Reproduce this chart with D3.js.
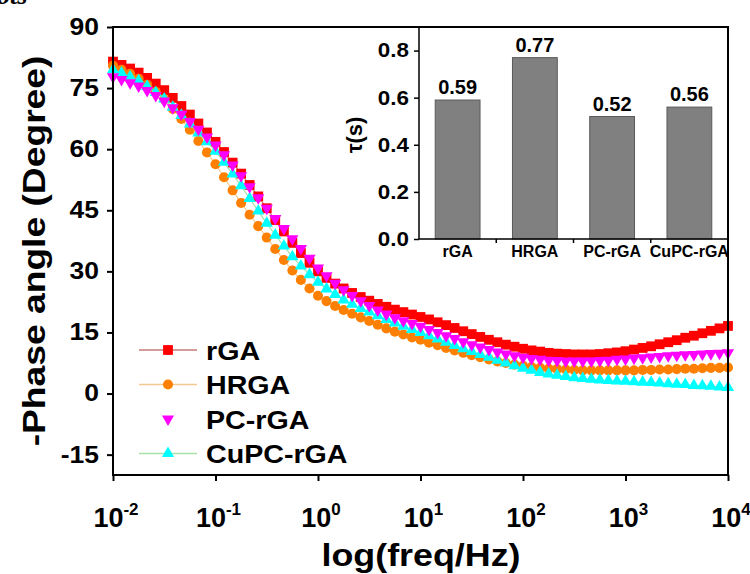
<!DOCTYPE html>
<html>
<head>
<meta charset="utf-8">
<script src="https://cdn.jsdelivr.net/npm/d3@7"></script>
<style>
  body { margin: 0; background: #fff; }
  svg { display: block; font-family: Arial, "Liberation Sans", sans-serif; font-weight: bold; }
</style>
</head>
<body>
<svg id="chart" width="750" height="574"></svg>
<script>
// log10(freq / Hz) of every measured point
const logFreq = [
  -2, -1.917, -1.833, -1.75, -1.667, -1.583, -1.5, -1.417, -1.333, -1.25, -1.167, -1.083,
  -1, -0.917, -0.833, -0.75, -0.667, -0.583, -0.5, -0.417, -0.333, -0.25, -0.167, -0.083,
  0, 0.083, 0.167, 0.25, 0.333, 0.417, 0.5, 0.583, 0.667, 0.75, 0.833, 0.917,
  1, 1.083, 1.167, 1.25, 1.333, 1.417, 1.5, 1.583, 1.667, 1.75, 1.833, 1.917,
  2, 2.083, 2.167, 2.25, 2.333, 2.417, 2.5, 2.583, 2.667, 2.75, 2.833, 2.917,
  3, 3.083, 3.167, 3.25, 3.333, 3.417, 3.5, 3.583, 3.667, 3.75, 3.833, 3.917,
  4
];

// -phase angle (degree)
const rGA = [
  81.5, 80.7, 79.8, 78.8, 77.5, 76.1, 74.5, 72.6, 70.6, 68.5, 66.3, 64.1,
  61.8, 59.3, 56.7, 54.0, 51.2, 48.4, 45.5, 42.6, 39.8, 37.0, 34.5, 32.1,
  30.0, 28.4, 27.0, 25.8, 24.7, 23.7, 22.8, 22.0, 21.3, 20.6, 20.0, 19.4,
  18.8, 18.2, 17.5, 16.8, 16.1, 15.3, 14.6, 13.9, 13.2, 12.6, 12.0, 11.5,
  11.0, 10.6, 10.3, 10.0, 9.8, 9.7, 9.6, 9.6, 9.6, 9.7, 9.9, 10.1,
  10.4, 10.8, 11.2, 11.6, 12.1, 12.6, 13.1, 13.7, 14.2, 14.8, 15.4, 16.0,
  16.6
];
const HRGA = [
  80.5, 79.5, 78.5, 77.3, 75.8, 74.1, 72.3, 69.9, 67.4, 64.8, 62.0, 59.2,
  56.3, 53.1, 49.9, 46.8, 43.9, 41.1, 38.3, 35.5, 32.8, 30.2, 27.9, 25.8,
  24.0, 22.7, 21.5, 20.5, 19.6, 18.7, 17.8, 16.9, 16.0, 15.2, 14.5, 13.8,
  13.2, 12.5, 11.9, 11.2, 10.6, 10.0, 9.4, 8.9, 8.4, 7.9, 7.5, 7.1,
  6.8, 6.5, 6.3, 6.1, 6.0, 5.9, 5.8, 5.7, 5.7, 5.7, 5.7, 5.7,
  5.7, 5.7, 5.8, 5.8, 5.9, 5.9, 6.0, 6.1, 6.1, 6.2, 6.3, 6.3,
  6.4
];
const PCrGA = [
  77.8, 77.1, 76.3, 75.5, 74.4, 73.2, 71.8, 70.2, 68.6, 66.8, 64.9, 63.0,
  61.0, 58.6, 56.1, 53.5, 50.8, 48.1, 45.5, 43.0, 40.5, 38.0, 35.6, 33.2,
  30.8, 28.9, 27.1, 25.5, 24.1, 22.8, 21.6, 20.5, 19.5, 18.6, 17.9, 17.2,
  16.5, 15.7, 15.0, 14.2, 13.5, 12.7, 12.0, 11.4, 10.8, 10.2, 9.7, 9.3,
  8.9, 8.6, 8.4, 8.2, 8.1, 8.0, 8.0, 8.0, 8.0, 8.1, 8.2, 8.4,
  8.5, 8.7, 8.8, 9.0, 9.1, 9.3, 9.4, 9.5, 9.6, 9.7, 9.8, 9.9,
  10.0
];
const CuPCrGA = [
  79.5, 78.7, 77.8, 76.8, 75.4, 73.9, 72.3, 70.3, 68.3, 66.2, 64.0, 61.8,
  59.5, 56.8, 53.9, 51.0, 47.9, 44.8, 41.8, 38.9, 36.2, 33.6, 31.3, 29.2,
  27.3, 25.7, 24.3, 23.0, 21.9, 20.9, 20.0, 19.1, 18.2, 17.3, 16.5, 15.7,
  15.0, 14.2, 13.4, 12.6, 11.8, 11.0, 10.3, 9.6, 8.9, 8.2, 7.5, 6.8,
  6.2, 5.7, 5.2, 4.8, 4.5, 4.2, 3.9, 3.7, 3.5, 3.3, 3.2, 3.1,
  3.0, 2.9, 2.8, 2.7, 2.6, 2.4, 2.3, 2.2, 2.0, 1.9, 1.8, 1.6,
  1.5
];
const seriesNames = ["rGA", "HRGA", "PC-rGA", "CuPC-rGA"];
const yTicks = [-15, 0, 15, 30, 45, 60, 75, 90];
const xExponents = [-2, -1, 0, 1, 2, 3, 4];

// inset: time constant
const tauNames = ["rGA", "HRGA", "PC-rGA", "CuPC-rGA"];
const tauValues = [0.59, 0.77, 0.52, 0.56];
const tauTicks = [0, 0.2, 0.4, 0.6, 0.8];

const styles = {
  "rGA":      { fill: "#ff0000", line: "#c97a7a", symbol: d3.symbolSquare, size: 96, rot: 0 },
  "HRGA":     { fill: "#ff8000", line: "#f4c890", symbol: d3.symbolCircle, size: 80, rot: 0 },
  "PC-rGA":   { fill: "#ff00ff", line: null,      symbol: d3.symbolTriangle, size: 64, rot: 180 },
  "CuPC-rGA": { fill: "#00ffff", line: "#a6e2a6", symbol: d3.symbolTriangle, size: 64, rot: 0 }
};

// the figure's bold face runs wider than Arial Bold: stretch along the reading direction
function widen(sel, factor) {
  sel.each(function () {
    const w = this.getComputedTextLength();
    d3.select(this).attr("textLength", w * factor).attr("lengthAdjust", "spacingAndGlyphs");
  });
}

const svg = d3.select("#chart");
const plot = { left: 113, right: 728, top: 27, bottom: 475 };

const x = d3.scaleLog().domain([1e-2, 1e4]).range([plot.left, plot.right]);
const y = d3.scaleLinear().domain([-20, 90]).range([plot.bottom, plot.top]);

const series = [
  { name: "rGA", values: rGA },
  { name: "HRGA", values: HRGA },
  { name: "CuPC-rGA", values: CuPCrGA },
  { name: "PC-rGA", values: PCrGA }
].map(s => ({
  name: s.name,
  points: s.values.map((v, i) => ({ f: Math.pow(10, logFreq[i]), v: v }))
}));

// top-left fragment of the page caption, cut by the crop
svg.append("text")
  .attr("x", -3).attr("y", 4)
  .style("font-family", "'Liberation Serif', 'Times New Roman', serif")
  .style("font-style", "italic")
  .style("font-size", "26px")
  .text("ots");

// ---- main axes ----
const gLeft = svg.append("g").attr("transform", `translate(${plot.left},0)`);
gLeft.call(d3.axisLeft(y).tickValues(d3.range(-15, 91, 7.5)).tickSize(3).tickFormat(""));
gLeft.call(d3.axisLeft(y).tickValues(yTicks).tickSize(6).tickPadding(8).tickFormat(d => String(d)));
gLeft.select(".domain").remove();
gLeft.selectAll("line").attr("stroke", "#000").attr("stroke-width", 2);
gLeft.selectAll("text")
  .style("font-size", "23px")
  .style("font-family", "Arial, 'Liberation Sans', sans-serif")
  .attr("fill", "#000")
  .call(widen, 1.15);

const minorX = [];
xExponents.slice(0, -1).forEach(e => {
  for (let k = 2; k <= 9; k++) minorX.push(k * Math.pow(10, e));
});
const gBottom = svg.append("g").attr("transform", `translate(0,${plot.bottom})`);
gBottom.call(d3.axisBottom(x).tickValues(minorX).tickSize(3).tickFormat(""));
gBottom.call(d3.axisBottom(x).tickValues(xExponents.map(e => Math.pow(10, e))).tickSize(6).tickFormat(""));
gBottom.select(".domain").remove();
gBottom.selectAll("line").attr("stroke", "#000").attr("stroke-width", 2);

const xLabels = svg.append("g")
  .style("font-size", "27px")
  .selectAll("text").data(xExponents).join("text")
  .attr("x", e => x(Math.pow(10, e)) + 3)
  .attr("y", 527)
  .attr("text-anchor", "middle");
xLabels.append("tspan").text("10");
xLabels.append("tspan").attr("dy", -12).style("font-size", "17px").text(e => String(e));

svg.append("text")
  .attr("x", 421).attr("y", 566)
  .attr("text-anchor", "middle")
  .style("font-size", "32px")
  .text("log(freq/Hz)")
  .call(widen, 1.12);

svg.append("text")
  .attr("transform", `translate(45,${(plot.top + plot.bottom) / 2}) rotate(-90)`)
  .attr("text-anchor", "middle")
  .style("font-size", "31px")
  .text("-Phase angle (Degree)")
  .call(widen, 1.2);

// ---- data ----
const gData = svg.append("g");
series.forEach(s => {
  const st = styles[s.name];
  if (st.line) {
    gData.append("path")
      .datum(s.points)
      .attr("fill", "none")
      .attr("stroke", st.line)
      .attr("stroke-width", 1.2)
      .attr("d", d3.line().x(d => x(d.f)).y(d => y(d.v)));
  }
  gData.append("g").selectAll("path").data(s.points).join("path")
    .attr("d", d3.symbol(st.symbol, st.size))
    .attr("fill", st.fill)
    .attr("transform", d => `translate(${x(d.f)},${y(d.v)}) rotate(${st.rot})`);
});

// frame
svg.append("rect")
  .attr("x", plot.left).attr("y", plot.top)
  .attr("width", plot.right - plot.left).attr("height", plot.bottom - plot.top)
  .attr("fill", "none").attr("stroke", "#000").attr("stroke-width", 2);

// ---- legend ----
const legend = svg.append("g").selectAll("g").data(seriesNames).join("g")
  .attr("transform", (d, i) => `translate(0,${350 + i * 34.5})`);
legend.filter(d => styles[d].line).append("line")
  .attr("x1", 139).attr("x2", 197)
  .attr("stroke", d => styles[d].line).attr("stroke-width", 1.5);
legend.append("path")
  .attr("d", d => d3.symbol(styles[d].symbol, styles[d].size)())
  .attr("fill", d => styles[d].fill)
  .attr("transform", d => `translate(168,0) rotate(${styles[d].rot})`);
legend.append("text")
  .attr("x", 206).attr("y", 9.5)
  .style("font-size", "26.5px")
  .text(d => d)
  .call(widen, 1.08);

// ---- inset bar chart ----
const inset = { left: 419, right: 728, top: 27, bottom: 239 };
const xb = d3.scaleBand().domain(tauNames).range([inset.left, inset.right])
  .paddingInner(0.42).paddingOuter(0.21);
const yb = d3.scaleLinear().domain([0, 0.9]).range([inset.bottom, inset.top]);

const gInset = svg.append("g");
gInset.selectAll("rect").data(tauNames).join("rect")
  .attr("x", d => xb(d))
  .attr("y", (d, i) => yb(tauValues[i]))
  .attr("width", xb.bandwidth())
  .attr("height", (d, i) => yb(0) - yb(tauValues[i]))
  .attr("fill", "#808080")
  .attr("stroke", "#5a5a5a")
  .attr("stroke-width", 1);

gInset.selectAll("text.val").data(tauNames).join("text")
  .attr("class", "val")
  .attr("x", d => xb(d) + xb.bandwidth() / 2)
  .attr("y", (d, i) => yb(tauValues[i]) - 6)
  .attr("text-anchor", "middle")
  .style("font-size", "20px")
  .text((d, i) => tauValues[i].toFixed(2));

const gIy = gInset.append("g").attr("transform", `translate(${inset.left},0)`);
gIy.call(d3.axisLeft(yb).tickValues(d3.range(0.1, 0.9, 0.2)).tickSize(3).tickFormat(""));
gIy.call(d3.axisLeft(yb).tickValues(tauTicks).tickSize(5).tickPadding(5).tickFormat(d3.format(".1f")));
gIy.select(".domain").remove();
gIy.selectAll("line").attr("stroke", "#000").attr("stroke-width", 1.5);
gIy.selectAll("text")
  .style("font-size", "20px")
  .style("font-family", "Arial, 'Liberation Sans', sans-serif")
  .attr("fill", "#000")
  .call(widen, 1.12);

const step = xb.step();
const bandEdges = tauNames.slice(1).map(d => xb(d) - step * xb.paddingInner() / 2);
gInset.selectAll("line.tk").data(bandEdges).join("line")
  .attr("class", "tk")
  .attr("x1", d => d).attr("x2", d => d)
  .attr("y1", inset.bottom).attr("y2", inset.bottom + 4)
  .attr("stroke", "#000").attr("stroke-width", 1.5);

gInset.selectAll("text.cat").data(tauNames).join("text")
  .attr("class", "cat")
  .attr("x", d => xb(d) + xb.bandwidth() / 2)
  .attr("y", 257)
  .attr("text-anchor", "middle")
  .style("font-size", "16px")
  .text(d => d);

gInset.append("path")
  .attr("d", `M${inset.left},${inset.top}V${inset.bottom}H${inset.right}`)
  .attr("fill", "none").attr("stroke", "#000").attr("stroke-width", 1.5);

svg.append("text")
  .attr("transform", `translate(362,${(inset.top + inset.bottom) / 2 + 2}) rotate(-90)`)
  .attr("text-anchor", "middle")
  .style("font-size", "22px")
  .text("τ(s)");
</script>
</body>
</html>
